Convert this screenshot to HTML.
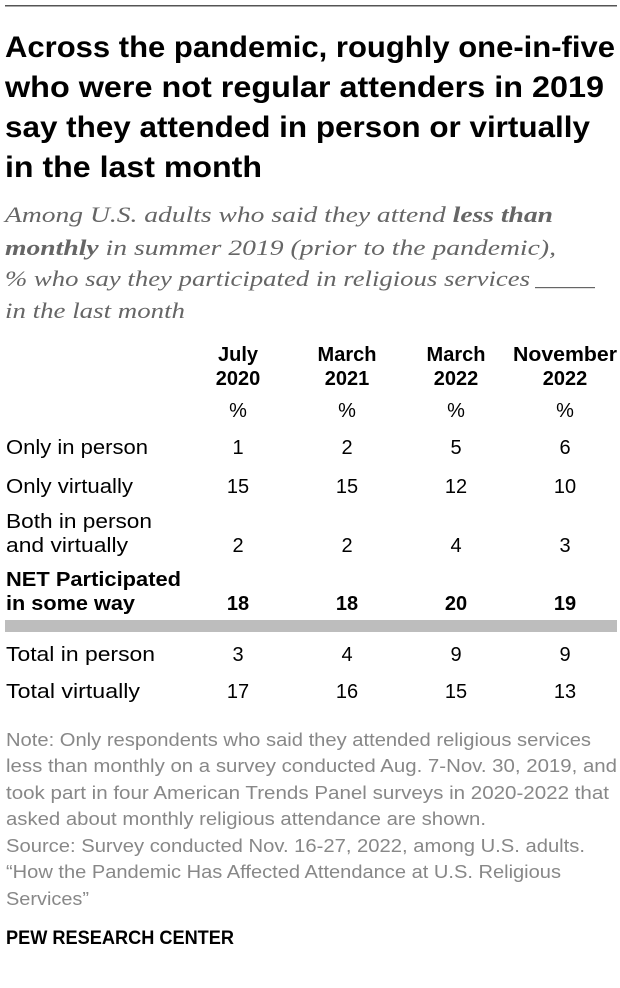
<!DOCTYPE html>
<html><head><meta charset="utf-8"><style>
html,body{margin:0;padding:0;background:#fff;}
svg{display:block;}
.t{font-family:"Liberation Sans",sans-serif;font-weight:bold;font-size:30px;fill:#000;}
.s{font-family:"Liberation Serif",serif;font-style:italic;font-size:22px;fill:#666;}
.b{font-family:"Liberation Sans",sans-serif;font-size:20px;fill:#000;}
.h{font-family:"Liberation Sans",sans-serif;font-size:20px;font-weight:bold;fill:#000;}
.n{font-family:"Liberation Sans",sans-serif;font-size:18px;fill:#888;}
</style></head><body>
<svg width="620" height="988" viewBox="0 0 620 988" xmlns="http://www.w3.org/2000/svg">
<rect x="5" y="5" width="612" height="1.5" fill="#555"/>
<g class="t">
<text x="5" y="57" textLength="610" lengthAdjust="spacingAndGlyphs">Across the pandemic, roughly one-in-five</text>
<text x="5" y="97" textLength="599" lengthAdjust="spacingAndGlyphs">who were not regular attenders in 2019</text>
<text x="5" y="137" textLength="585" lengthAdjust="spacingAndGlyphs">say they attended in person or virtually</text>
<text x="5" y="177" textLength="257" lengthAdjust="spacingAndGlyphs">in the last month</text>
</g>
<text class="s" x="5" y="222" textLength="548" lengthAdjust="spacingAndGlyphs">Among U.S. adults who said they attend <tspan font-weight="bold">less than</tspan></text>
<text class="s" x="5" y="255" textLength="551" lengthAdjust="spacingAndGlyphs"><tspan font-weight="bold">monthly</tspan> in summer 2019 (prior to the pandemic),</text>
<text class="s" x="5" y="286" textLength="525" lengthAdjust="spacingAndGlyphs">% who say they participated in religious services</text>
<rect x="535" y="287" width="60" height="1.2" fill="#666"/>
<text class="s" x="5" y="318" textLength="180" lengthAdjust="spacingAndGlyphs">in the last month</text>

<g class="h" text-anchor="middle">
<text x="238" y="361">July</text><text x="238" y="385">2020</text>
<text x="347" y="361">March</text><text x="347" y="385">2021</text>
<text x="456" y="361">March</text><text x="456" y="385">2022</text>
<text x="565" y="361" textLength="104" lengthAdjust="spacingAndGlyphs">November</text><text x="565" y="385">2022</text>
</g>
<g class="b" text-anchor="middle">
<text x="238" y="417">%</text><text x="347" y="417">%</text><text x="456" y="417">%</text><text x="565" y="417">%</text>
<text x="238" y="454">1</text><text x="347" y="454">2</text><text x="456" y="454">5</text><text x="565" y="454">6</text>
<text x="238" y="493">15</text><text x="347" y="493">15</text><text x="456" y="493">12</text><text x="565" y="493">10</text>
<text x="238" y="552">2</text><text x="347" y="552">2</text><text x="456" y="552">4</text><text x="565" y="552">3</text>
<text x="238" y="661">3</text><text x="347" y="661">4</text><text x="456" y="661">9</text><text x="565" y="661">9</text>
<text x="238" y="698">17</text><text x="347" y="698">16</text><text x="456" y="698">15</text><text x="565" y="698">13</text>
</g>
<g class="h" text-anchor="middle">
<text x="238" y="610">18</text><text x="347" y="610">18</text><text x="456" y="610">20</text><text x="565" y="610">19</text>
</g>
<g class="b">
<text x="6" y="454" textLength="142" lengthAdjust="spacingAndGlyphs">Only in person</text>
<text x="6" y="493" textLength="127" lengthAdjust="spacingAndGlyphs">Only virtually</text>
<text x="6" y="528" textLength="146" lengthAdjust="spacingAndGlyphs">Both in person</text>
<text x="6" y="552" textLength="122" lengthAdjust="spacingAndGlyphs">and virtually</text>
<text x="6" y="661" textLength="149" lengthAdjust="spacingAndGlyphs">Total in person</text>
<text x="6" y="698" textLength="134" lengthAdjust="spacingAndGlyphs">Total virtually</text>
</g>
<g class="h">
<text x="6" y="586" textLength="175" lengthAdjust="spacingAndGlyphs">NET Participated</text>
<text x="6" y="610" textLength="129" lengthAdjust="spacingAndGlyphs">in some way</text>
</g>
<rect x="5" y="620" width="612" height="12" fill="#bdbdbd"/>

<g class="n">
<text x="6" y="746" textLength="585" lengthAdjust="spacingAndGlyphs">Note: Only respondents who said they attended religious services</text>
<text x="6" y="772" textLength="611" lengthAdjust="spacingAndGlyphs">less than monthly on a survey conducted Aug. 7-Nov. 30, 2019, and</text>
<text x="6" y="799" textLength="603" lengthAdjust="spacingAndGlyphs">took part in four American Trends Panel surveys in 2020-2022 that</text>
<text x="6" y="825" textLength="480" lengthAdjust="spacingAndGlyphs">asked about monthly religious attendance are shown.</text>
<text x="6" y="852" textLength="579" lengthAdjust="spacingAndGlyphs">Source: Survey conducted Nov. 16-27, 2022, among U.S. adults.</text>
<text x="6" y="878" textLength="555" lengthAdjust="spacingAndGlyphs">“How the Pandemic Has Affected Attendance at U.S. Religious</text>
<text x="6" y="905" textLength="83" lengthAdjust="spacingAndGlyphs">Services”</text>
</g>
<text x="6" y="944" textLength="228" lengthAdjust="spacingAndGlyphs" style="font-family:'Liberation Sans',sans-serif;font-weight:bold;font-size:19px;fill:#000;">PEW RESEARCH CENTER</text>
</svg>
</body></html>
